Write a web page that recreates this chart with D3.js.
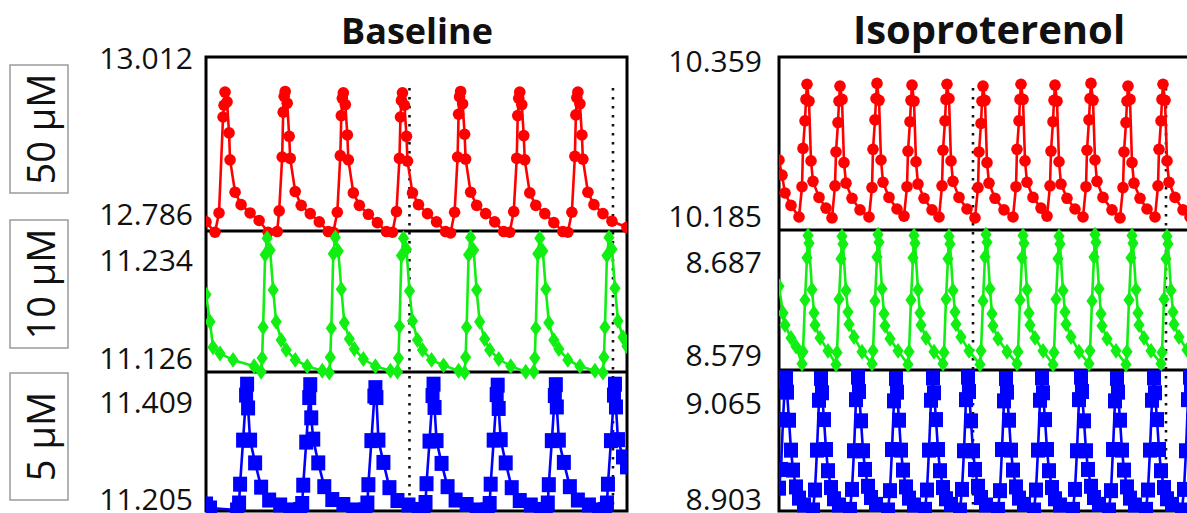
<!DOCTYPE html>
<html><head><meta charset="utf-8">
<script src="https://cdn.jsdelivr.net/npm/d3@7"></script>
<style>body{margin:0;background:#fff}svg{display:block}</style>
</head><body>
<svg id="c" width="1187" height="513"></svg>
<script>
// ---------- data ----------
const panelTitles = ["Baseline", "Isoproterenol"];
const concLabels = ["50 µM", "10 µM", "5 µM"];
const baseTicks = [[12.786, 13.012], [11.126, 11.234], [11.205, 11.409]];
const isoTicks = [[10.185, 10.359], [8.579, 8.687], [8.903, 9.065]];
const baseMarkers = [2030, 4060];
const isoMarkers = [1940, 3870];

const baseRed = [[0,12.776],[90,12.761],[130,12.789],[170,12.928],[180,12.945],[190,12.964],[210,12.950],[230,12.905],[240,12.866],[290,12.819],[350,12.801],[440,12.789],[530,12.778],[620,12.761],
[710,12.762],[730,12.792],[760,12.870],[770,12.935],[780,12.958],[790,12.965],[810,12.948],[830,12.900],[840,12.868],[890,12.820],[950,12.800],[1040,12.788],[1130,12.776],[1220,12.762],
[1270,12.761],[1310,12.790],[1340,12.872],[1350,12.930],[1360,12.955],[1370,12.963],[1390,12.946],[1410,12.902],[1420,12.866],[1470,12.818],[1530,12.800],[1620,12.787],[1710,12.775],[1800,12.762],
[1860,12.761],[1900,12.791],[1930,12.868],[1940,12.928],[1950,12.952],[1960,12.963],[1980,12.945],[2000,12.900],[2010,12.864],[2060,12.818],[2120,12.801],[2210,12.788],[2300,12.776],[2390,12.762],
[2440,12.760],[2480,12.790],[2510,12.870],[2520,12.932],[2530,12.957],[2540,12.965],[2560,12.947],[2580,12.903],[2590,12.867],[2640,12.819],[2700,12.800],[2790,12.788],[2880,12.776],[2970,12.762],
[3030,12.761],[3070,12.791],[3100,12.868],[3110,12.930],[3120,12.955],[3130,12.964],[3150,12.946],[3170,12.901],[3180,12.866],[3230,12.818],[3290,12.800],[3380,12.788],[3470,12.775],[3560,12.762],
[3610,12.761],[3650,12.790],[3680,12.871],[3690,12.931],[3700,12.956],[3710,12.964],[3730,12.947],[3750,12.902],[3760,12.867],[3810,12.819],[3870,12.801],[3960,12.788],[4050,12.777],[4200,12.768]];

const baseGreen = [[0,11.197],[40,11.167],[70,11.139],[140,11.132],[270,11.125],[480,11.118],
[550,11.112],[560,11.127],[570,11.161],[590,11.241],[610,11.259],[640,11.246],[670,11.202],[700,11.167],[750,11.147],[800,11.136],[890,11.125],[1010,11.118],[1160,11.113],
[1230,11.111],[1240,11.128],[1250,11.160],[1270,11.242],[1290,11.260],[1320,11.245],[1350,11.203],[1380,11.166],[1430,11.148],[1480,11.137],[1570,11.126],[1690,11.118],[1840,11.113],
[1910,11.112],[1920,11.127],[1930,11.162],[1950,11.240],[1970,11.259],[2000,11.247],[2030,11.201],[2060,11.168],[2110,11.147],[2160,11.136],[2250,11.125],[2370,11.119],[2520,11.113],
[2580,11.111],[2590,11.128],[2600,11.161],[2620,11.241],[2640,11.260],[2670,11.246],[2700,11.202],[2730,11.167],[2780,11.148],[2830,11.136],[2920,11.126],[3040,11.118],[3190,11.112],
[3270,11.112],[3280,11.127],[3290,11.160],[3310,11.242],[3330,11.259],[3360,11.245],[3390,11.203],[3420,11.166],[3470,11.147],[3520,11.137],[3610,11.125],[3730,11.118],[3880,11.113],
[3960,11.111],[3970,11.128],[3980,11.161],[4000,11.240],[4020,11.260],[4050,11.247],[4080,11.204],[4110,11.168],[4160,11.150],[4200,11.140]];

const baseBlue = [[0,11.205],[40,11.197],[310,11.193],[330,11.207],[340,11.245],[370,11.334],[400,11.425],[410,11.447],[420,11.399],[440,11.334],[490,11.288],[550,11.239],[630,11.213],[740,11.203],[840,11.193],
[940,11.194],[960,11.206],[970,11.243],[1000,11.330],[1030,11.420],[1040,11.446],[1050,11.379],[1070,11.336],[1120,11.288],[1180,11.240],[1260,11.214],[1370,11.204],[1470,11.193],
[1590,11.193],[1610,11.207],[1620,11.244],[1650,11.333],[1680,11.423],[1690,11.440],[1700,11.420],[1720,11.334],[1770,11.289],[1830,11.238],[1910,11.212],[2020,11.203],[2120,11.194],
[2170,11.193],[2190,11.208],[2200,11.246],[2230,11.332],[2260,11.424],[2270,11.447],[2280,11.400],[2300,11.333],[2350,11.287],[2410,11.240],[2490,11.213],[2600,11.204],[2700,11.193],
[2810,11.193],[2830,11.206],[2840,11.245],[2870,11.334],[2900,11.426],[2910,11.445],[2920,11.398],[2940,11.335],[2990,11.288],[3050,11.238],[3130,11.212],[3240,11.203],[3340,11.194],
[3390,11.193],[3410,11.207],[3420,11.244],[3450,11.333],[3480,11.424],[3490,11.446],[3500,11.401],[3520,11.334],[3570,11.289],[3630,11.240],[3710,11.213],[3820,11.203],[3920,11.193],
[3980,11.194],[4000,11.207],[4010,11.245],[4040,11.333],[4070,11.425],[4080,11.447],[4090,11.401],[4110,11.335],[4160,11.300],[4200,11.280]];

const isoRed = [[0,10.249],[30,10.232],[60,10.212],[120,10.198],
[200,10.185],[230,10.219],[240,10.262],[260,10.293],[270,10.317],[280,10.334],[300,10.315],[320,10.248],[340,10.225],[400,10.207],[470,10.195],
[530,10.184],[560,10.220],[570,10.258],[590,10.291],[600,10.315],[610,10.332],[630,10.317],[650,10.246],[670,10.223],[730,10.206],[810,10.193],
[900,10.185],[930,10.218],[940,10.261],[960,10.294],[970,10.318],[980,10.335],[1000,10.316],[1020,10.249],[1040,10.224],[1100,10.207],[1180,10.194],
[1250,10.186],[1280,10.219],[1290,10.259],[1310,10.292],[1320,10.316],[1330,10.333],[1350,10.315],[1370,10.247],[1390,10.222],[1450,10.206],[1530,10.193],
[1600,10.185],[1630,10.220],[1640,10.260],[1660,10.293],[1670,10.317],[1680,10.334],[1700,10.318],[1720,10.248],[1740,10.225],[1800,10.207],[1880,10.194],
[1960,10.184],[1990,10.218],[2000,10.258],[2020,10.290],[2030,10.315],[2040,10.332],[2060,10.316],[2080,10.246],[2100,10.223],[2160,10.206],[2250,10.193],
[2340,10.185],[2370,10.219],[2380,10.261],[2400,10.293],[2410,10.317],[2420,10.334],[2440,10.317],[2460,10.248],[2480,10.224],[2540,10.207],[2620,10.195],
[2680,10.186],[2710,10.220],[2720,10.259],[2740,10.292],[2750,10.316],[2760,10.333],[2780,10.315],[2800,10.247],[2820,10.222],[2880,10.206],[2960,10.194],
[3040,10.185],[3070,10.219],[3080,10.260],[3100,10.294],[3110,10.318],[3120,10.335],[3140,10.316],[3160,10.249],[3180,10.225],[3240,10.207],[3330,10.193],
[3410,10.184],[3440,10.218],[3450,10.258],[3470,10.291],[3480,10.315],[3490,10.332],[3510,10.317],[3530,10.246],[3550,10.223],[3610,10.206],[3680,10.194],
[3760,10.185],[3790,10.220],[3800,10.261],[3820,10.293],[3830,10.317],[3840,10.334],[3860,10.316],[3880,10.248],[3900,10.224],[3960,10.207],[4040,10.193],
[4110,10.185],[4140,10.219],[4150,10.260],[4170,10.292],[4180,10.316],[4190,10.333],[4200,10.320]];

const isoGreen = [[0,8.660],[40,8.629],[60,8.615],[120,8.600],[170,8.590],
[230,8.570],[240,8.584],[260,8.644],[280,8.693],[290,8.719],[300,8.710],[330,8.656],[350,8.629],[360,8.615],[410,8.600],[490,8.585],
[570,8.569],[580,8.583],[600,8.645],[620,8.692],[630,8.718],[640,8.709],[670,8.655],[690,8.630],[700,8.616],[750,8.601],[830,8.584],
[930,8.570],[940,8.585],[960,8.643],[980,8.694],[990,8.720],[1000,8.711],[1030,8.657],[1050,8.628],[1060,8.614],[1110,8.599],[1190,8.585],
[1290,8.569],[1300,8.584],[1320,8.644],[1340,8.693],[1350,8.719],[1360,8.710],[1390,8.656],[1410,8.629],[1420,8.615],[1470,8.600],[1550,8.584],
[1640,8.570],[1650,8.583],[1670,8.645],[1690,8.692],[1700,8.718],[1710,8.709],[1740,8.655],[1760,8.630],[1770,8.616],[1820,8.601],[1900,8.585],
[2010,8.569],[2020,8.585],[2040,8.643],[2060,8.694],[2070,8.720],[2080,8.711],[2110,8.657],[2130,8.628],[2140,8.614],[2190,8.599],[2280,8.584],
[2380,8.570],[2390,8.584],[2410,8.644],[2430,8.693],[2440,8.719],[2450,8.710],[2480,8.656],[2500,8.629],[2510,8.615],[2560,8.600],[2640,8.585],
[2740,8.569],[2750,8.583],[2770,8.645],[2790,8.692],[2800,8.718],[2810,8.709],[2840,8.655],[2860,8.630],[2870,8.616],[2920,8.601],[3000,8.584],
[3100,8.570],[3110,8.585],[3130,8.643],[3150,8.694],[3160,8.720],[3170,8.711],[3200,8.657],[3220,8.628],[3230,8.614],[3280,8.599],[3370,8.585],
[3470,8.569],[3480,8.584],[3500,8.644],[3520,8.693],[3530,8.719],[3540,8.710],[3570,8.656],[3590,8.629],[3600,8.615],[3650,8.600],[3720,8.585],
[3820,8.570],[3830,8.583],[3850,8.645],[3870,8.692],[3880,8.718],[3890,8.709],[3920,8.655],[3940,8.630],[3950,8.616],[4000,8.601],[4080,8.586],
[4170,8.570],[4180,8.584],[4200,8.630]];

const isoBlue = [[0,8.930],[20,8.960],[40,9.040],[60,9.100],[70,9.107],[80,9.084],[100,9.039],[120,8.991],[140,8.959],[170,8.932],[200,8.914],[250,8.903],
[340,8.895],[360,8.927],[380,8.991],[400,9.071],[420,9.106],[430,9.083],[450,9.040],[470,8.992],[490,8.958],[520,8.931],[550,8.913],[600,8.903],
[710,8.896],[730,8.928],[750,8.990],[770,9.072],[790,9.108],[800,9.085],[820,9.038],[840,8.990],[860,8.960],[890,8.933],[920,8.915],[970,8.904],
[1090,8.895],[1110,8.926],[1130,8.992],[1150,9.070],[1170,9.106],[1180,9.084],[1200,9.039],[1220,8.991],[1240,8.959],[1270,8.932],[1300,8.914],[1350,8.903],
[1460,8.896],[1480,8.927],[1500,8.991],[1520,9.071],[1540,9.107],[1550,9.083],[1570,9.040],[1590,8.992],[1610,8.958],[1640,8.931],[1670,8.913],[1720,8.904],
[1810,8.895],[1830,8.928],[1850,8.990],[1870,9.072],[1890,9.108],[1900,9.085],[1920,9.038],[1940,8.990],[1960,8.960],[1990,8.933],[2020,8.915],[2070,8.903],
[2190,8.896],[2210,8.926],[2230,8.992],[2250,9.070],[2270,9.106],[2280,9.084],[2300,9.039],[2320,8.991],[2340,8.959],[2370,8.932],[2400,8.914],[2450,8.904],
[2550,8.895],[2570,8.927],[2590,8.991],[2610,9.071],[2630,9.107],[2640,9.083],[2660,9.040],[2680,8.992],[2700,8.958],[2730,8.931],[2760,8.913],[2810,8.903],
[2940,8.896],[2960,8.928],[2980,8.990],[3000,9.072],[3020,9.108],[3030,9.085],[3050,9.038],[3070,8.990],[3090,8.960],[3120,8.933],[3150,8.915],[3200,8.904],
[3300,8.895],[3320,8.926],[3340,8.992],[3360,9.070],[3380,9.106],[3390,9.084],[3410,9.039],[3430,8.991],[3450,8.959],[3480,8.932],[3510,8.914],[3560,8.903],
[3670,8.896],[3690,8.927],[3710,8.991],[3730,9.071],[3750,9.107],[3760,9.083],[3780,9.040],[3800,8.992],[3820,8.958],[3850,8.931],[3880,8.913],[3930,8.904],
[4030,8.895],[4050,8.928],[4070,8.990],[4090,9.072],[4110,9.108],[4120,9.085],[4140,9.038],[4160,8.990],[4180,8.960],[4200,8.945]];

// ---------- layout ----------
const svg = d3.select("#c");
const FONT = "'Open Sans', sans-serif";
const colors = ["#ff0000", "#11ee11", "#0000ff"];

const panels = [
  { title: panelTitles[0], titleX: 417, titleSize: 36, x0: 206, x1: 627, labelX: 193,
    rows: [[57, 231], [231, 372], [372, 511]],
    tickPos: [[215, 59], [359, 261], [504, 403]],
    ticks: baseTicks, series: [baseRed, baseGreen, baseBlue], marks: baseMarkers },
  { title: panelTitles[1], titleX: 989, titleSize: 40, x0: 779, x1: 1199, labelX: 762,
    rows: [[57, 230], [230, 370], [370, 511]],
    tickPos: [[217, 62], [356, 263], [505, 404]],
    ticks: isoTicks, series: [isoRed, isoGreen, isoBlue], marks: isoMarkers }
];

// concentration boxes
const boxes = [[65, 193], [220, 348], [373, 500]];
concLabels.forEach((lab, i) => {
  const [b0, b1] = boxes[i];
  svg.append("rect").attr("x", 10).attr("y", b0).attr("width", 58).attr("height", b1 - b0)
    .attr("fill", "none").attr("stroke", "#9a9a9a").attr("stroke-width", 1.5);
  svg.append("text").attr("transform", `translate(55,${(b0 + b1) / 2}) rotate(-90)`)
    .attr("text-anchor", "middle").attr("font-family", FONT).attr("font-size", 38)
    .attr("fill", "#111").text(lab);
});

panels.forEach((p, pi) => {
  const x = d3.scaleLinear().domain([0, 4200]).range([p.x0, p.x1]);
  const g = svg.append("g");

  g.append("text").attr("x", p.titleX).attr("y", 44).attr("text-anchor", "middle")
    .attr("font-family", FONT).attr("font-weight", 700).attr("font-size", p.titleSize)
    .attr("fill", "#111").text(p.title);

  const clipId = "clip" + pi;
  svg.append("clipPath").attr("id", clipId).append("rect")
    .attr("x", p.x0).attr("y", 40).attr("width", p.x1 - p.x0).attr("height", 480);

  // frame + dividers
  g.append("rect").attr("x", p.x0).attr("y", p.rows[0][0]).attr("width", p.x1 - p.x0)
    .attr("height", p.rows[2][1] - p.rows[0][0]).attr("fill", "none")
    .attr("stroke", "#000").attr("stroke-width", 3);
  [p.rows[1][0], p.rows[2][0]].forEach(yy => {
    g.append("line").attr("x1", p.x0).attr("x2", p.x1).attr("y1", yy).attr("y2", yy)
      .attr("stroke", "#000").attr("stroke-width", 3);
  });

  // dotted markers
  p.marks.forEach(t => {
    g.append("line").attr("x1", x(t)).attr("x2", x(t)).attr("y1", 88).attr("y2", p.rows[2][1])
      .attr("stroke", "#111").attr("stroke-width", 2.6).attr("stroke-dasharray", "2.5,6.5");
  });

  const dg = g.append("g").attr("clip-path", `url(#${clipId})`);

  p.series.forEach((data, si) => {
    const [lo, hi] = p.ticks[si];
    const [yLo, yHi] = p.tickPos[si];
    const y = d3.scaleLinear().domain([lo, hi]).range([yLo, yHi]);
    const col = colors[si];

    // axis labels (min / max); the lowest label is nudged up to stay inside the picture
    const ax = g.append("g").attr("transform", `translate(${p.labelX},0)`)
      .call(d3.axisLeft(y).tickValues([hi, lo]).tickSize(0).tickPadding(0).tickFormat(d3.format(".3f")));
    ax.select(".domain").remove();
    ax.selectAll("text").attr("font-family", FONT).attr("font-size", 30).attr("fill", "#111");
    if (si === 2) {
      ax.selectAll(".tick").filter(d => d === lo)
        .attr("transform", `translate(0,${Math.min(y(lo), 500)})`);
    }

    const line = d3.line().x(d => x(d[0])).y(d => y(d[1]));
    dg.append("path").datum(data).attr("d", line).attr("fill", "none")
      .attr("stroke", col).attr("stroke-width", 2.6).attr("stroke-linejoin", "round");

    if (si === 0) {
      dg.selectAll(null).data(data).join("circle")
        .attr("cx", d => x(d[0])).attr("cy", d => y(d[1])).attr("r", 5.8).attr("fill", col);
    } else if (si === 1) {
      const sym = d3.symbol().type(d3.symbolDiamond).size(90);
      dg.selectAll(null).data(data).join("path")
        .attr("d", sym).attr("transform", d => `translate(${x(d[0])},${y(d[1])}) scale(1.1,0.9)`)
        .attr("fill", col);
    } else {
      dg.selectAll(null).data(data).join("rect")
        .attr("x", d => x(d[0]) - 7).attr("y", d => y(d[1]) - 7.5)
        .attr("width", 14).attr("height", 15).attr("fill", col);
    }
  });
});
</script>
</body></html>
